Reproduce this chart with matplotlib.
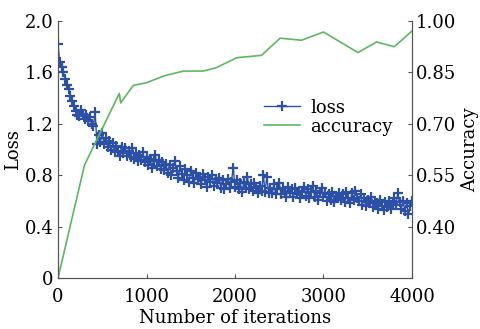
import matplotlib
matplotlib.use("Agg")
import matplotlib.pyplot as plt
from matplotlib.ticker import FixedLocator, FixedFormatter

plt.rcParams.update({'font.family': 'DejaVu Serif', 'font.size': 13})

loss_step = 20
loss = [
    1.82, 1.68, 1.64, 1.60, 1.55, 1.50, 1.47, 1.42, 1.38, 1.34,
    1.30, 1.27, 1.26, 1.31, 1.28, 1.24, 1.27, 1.22, 1.25, 1.20,
    1.18, 1.29, 1.04, 1.11, 1.06, 1.13, 1.04, 1.09, 1.02, 1.07,
    1.00, 1.05, 0.98, 1.03, 0.99, 0.95, 1.02, 0.97, 1.01, 0.95,
    0.99, 0.94, 1.01, 0.93, 0.97, 0.91, 0.96, 0.92, 0.98, 0.90,
    0.94, 0.88, 0.93, 0.86, 0.91, 0.96, 0.87, 0.92, 0.85, 0.90,
    0.84, 0.89, 0.82, 0.88, 0.80, 0.86, 0.91, 0.83, 0.78, 0.87,
    0.81, 0.76, 0.85, 0.80, 0.75, 0.83, 0.78, 0.74, 0.82, 0.77,
    0.79, 0.73, 0.81, 0.76, 0.71, 0.79, 0.75, 0.80, 0.72, 0.77,
    0.74, 0.78, 0.70, 0.76, 0.69, 0.73, 0.77, 0.70, 0.75, 0.86,
    0.71, 0.76, 0.69, 0.74, 0.67, 0.75, 0.70, 0.79, 0.69, 0.73,
    0.68, 0.74, 0.70, 0.66, 0.72, 0.68, 0.80, 0.67, 0.79, 0.66,
    0.70, 0.66, 0.73, 0.65, 0.69, 0.74, 0.65, 0.70, 0.68, 0.63,
    0.71, 0.66, 0.69, 0.63, 0.70, 0.65, 0.68, 0.62, 0.67, 0.71,
    0.64, 0.69, 0.62, 0.67, 0.72, 0.63, 0.68, 0.61, 0.66, 0.70,
    0.63, 0.66, 0.60, 0.65, 0.61, 0.67, 0.59, 0.64, 0.62, 0.66,
    0.61, 0.65, 0.59, 0.67, 0.62, 0.58, 0.66, 0.61, 0.68, 0.62,
    0.60, 0.65, 0.57, 0.62, 0.56, 0.61, 0.58, 0.63, 0.55, 0.60,
    0.58, 0.54, 0.61, 0.56, 0.53, 0.59, 0.55, 0.60, 0.54, 0.58,
    0.62, 0.57, 0.66, 0.59, 0.54, 0.60, 0.52, 0.58, 0.50, 0.56,
    0.60,
]
loss_x = [i * loss_step for i in range(len(loss))]

acc_x = [0, 300, 693, 708, 850, 1000, 1200, 1415, 1640, 1790, 2020, 2300,
         2510, 2750, 3000, 3390, 3600, 3800, 4000]
acc = [0.25, 0.58, 0.789, 0.761, 0.812, 0.82, 0.84, 0.854, 0.854, 0.864,
       0.893, 0.90, 0.95, 0.944, 0.968, 0.908, 0.939, 0.925, 0.971]

loss_ticks = [0, 0.4, 0.8, 1.2, 1.6, 2.0]
loss_labels = ['0', '0.4', '0.8', '1.2', '1.6', '2.0']
acc_ticks = [0.40, 0.55, 0.70, 0.85, 1.00]
x_ticks = [0, 1000, 2000, 3000, 4000]

blue = '#2b50a6'
green = '#5db760'
gray = '#555555'

fig = plt.figure(figsize=(4.81, 3.29), dpi=100)
ax = fig.add_axes([0.1206, 0.155, 0.7359, 0.781])
ax2 = ax.twinx()

l1, = ax.plot(loss_x, loss, color=blue, marker='+', markersize=7,
              markeredgewidth=1.6, linewidth=1.0, label='loss')
l2, = ax2.plot(acc_x, acc, color=green, linewidth=1.2, label='accuracy')

ax.set_xlim(0, 4000)
ax.set_ylim(0, 2.0)
ax2.set_ylim(0.25, 1.0)
ax.set_xticks(x_ticks)
ax.yaxis.set_major_locator(FixedLocator(loss_ticks))
ax.yaxis.set_major_formatter(FixedFormatter(loss_labels))
ax2.set_yticks(acc_ticks)
ax2.set_yticklabels(['%.2f' % v for v in acc_ticks])

for a in (ax, ax2):
    a.spines['top'].set_visible(False)
    for s in ('left', 'bottom', 'right'):
        a.spines[s].set_color(gray)
        a.spines[s].set_linewidth(0.8)
    a.tick_params(direction='in', length=3, color=gray, labelsize=13, pad=3)
ax.tick_params(axis='x', pad=7)

ax.set_xlabel('Number of iterations', labelpad=2)
ax.set_ylabel('Loss', labelpad=2)
ax2.set_ylabel('Accuracy', labelpad=3)

ax2.legend(handles=[l1, l2], loc='upper left', bbox_to_anchor=(0.55, 0.74),
           frameon=False, handlelength=2.0, handletextpad=0.6,
           borderpad=0.1, labelspacing=0.05, fontsize=13)

fig.savefig('out.png', dpi=100)
